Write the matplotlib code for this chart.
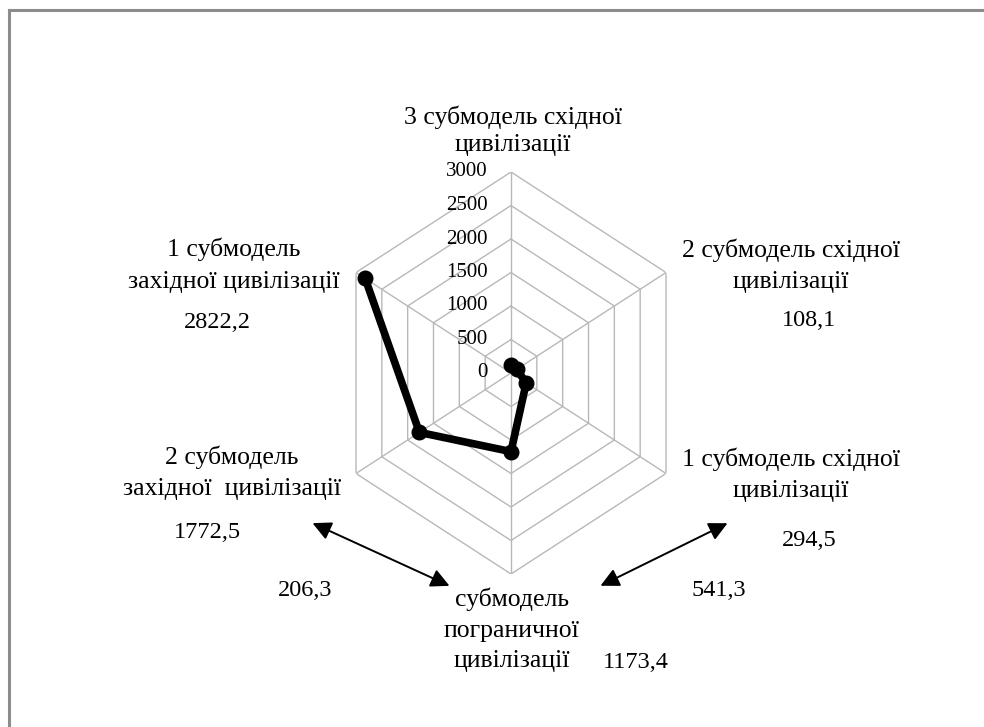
import numpy as np
import matplotlib
matplotlib.use('Agg')
import matplotlib.pyplot as plt
from matplotlib.lines import Line2D

# clockwise from the top spoke
categories = ['3 субмодель східної\nцивілізації',
              '2 субмодель східної\nцивілізації',
              '1 субмодель східної\nцивілізації',
              'субмодель\nпограничної\nцивілізації',
              '2 субмодель\nзахідної  цивілізації',
              '1 субмодель\nзахідної цивілізації']
values = [125, 108.1, 294.5, 1173.4, 1772.5, 2822.2]
value_labels = ['', '108,1', '294,5', '1173,4', '1772,5', '2822,2']
levels = [0, 500, 1000, 1500, 2000, 2500, 3000]
gap_labels = ['206,3', '541,3']

W, H = 984, 727
fig = plt.figure(figsize=(W / 100, H / 100), dpi=100, facecolor='w')
serif = 'Liberation Serif'

# chart centre and radius (pixels), x squeezed like the original
cx, cy = 511, 373
rx, ry = 179, 201
ax = fig.add_axes([(cx - rx) / W, (H - cy - ry) / H, 2 * rx / W, 2 * ry / H],
                  projection='polar')
ax.set_aspect('auto')
ax.set_theta_zero_location('N')
ax.set_theta_direction(-1)

n = len(categories)
theta = np.arange(n) * 2 * np.pi / n
ax.set_ylim(0, 3000)
ax.grid(False)
ax.spines['polar'].set_visible(False)
ax.set_xticks([])
ax.set_yticks([])
ax.patch.set_alpha(0)

# hexagonal grid
th_closed = np.append(theta, theta[0])
for lv in levels[1:]:
    ax.plot(th_closed, [lv] * (n + 1), color='#b8b8b8', lw=1.0, zorder=1)
for t in theta:
    ax.plot([t, t], [0, 3000], color='#b8b8b8', lw=1.0, zorder=1)

# series
ax.plot(theta, values, color='black', lw=5.5, marker='o', markersize=10.5,
        solid_joinstyle='round', zorder=3)

# radial tick labels along the top spoke
for lv in levels:
    y = cy - ry * lv / 3000
    fig.text(488 / W, 1 - y / H, str(lv), ha='right', va='center',
             fontsize=15, family=serif)

# category labels
lab_pos = [(513, 131), (791, 266), (791, 475), (512, 630), (232, 473), (234, 265)]
lab_sp = [1.3, 1.55, 1.55, 1.5, 1.55, 1.6]
for lab, (x, y), sp in zip(categories, lab_pos, lab_sp):
    fig.text(x / W, 1 - y / H, lab, ha='center', va='center', fontsize=18.5,
             family=serif, linespacing=sp)

val_pos = [(0, 0), (809, 321), (809, 540), (636, 662), (207, 533), (217, 322)]
for lab, (x, y) in zip(value_labels, val_pos):
    if lab:
        fig.text(x / W, 1 - y / H, lab, ha='center', va='center', fontsize=17.5,
                 family=serif)

fig.text(305 / W, 1 - 590 / H, gap_labels[0], ha='center', va='center',
         fontsize=17.5, family=serif)
fig.text(719 / W, 1 - 590 / H, gap_labels[1], ha='center', va='center',
         fontsize=17.5, family=serif)

# double arrows
for (x0, y0), (x1, y1) in [((310, 522), (452, 587)), ((730, 522), (598, 587))]:
    fig.patches.append(matplotlib.patches.FancyArrowPatch(
        (x0 / W, 1 - y0 / H), (x1 / W, 1 - y1 / H), transform=fig.transFigure,
        arrowstyle='<|-|>', mutation_scale=28, color='black', lw=1.4))

# border (top and left only visible in the crop)
fig.add_artist(Line2D([9 / W, 1], [1 - 10 / H, 1 - 10 / H], color='#8c8c8c', lw=2.2,
                      transform=fig.transFigure))
fig.add_artist(Line2D([9 / W, 9 / W], [0, 1 - 10 / H], color='#8c8c8c', lw=2.2,
                      transform=fig.transFigure))

fig.savefig('out.png', dpi=100)
